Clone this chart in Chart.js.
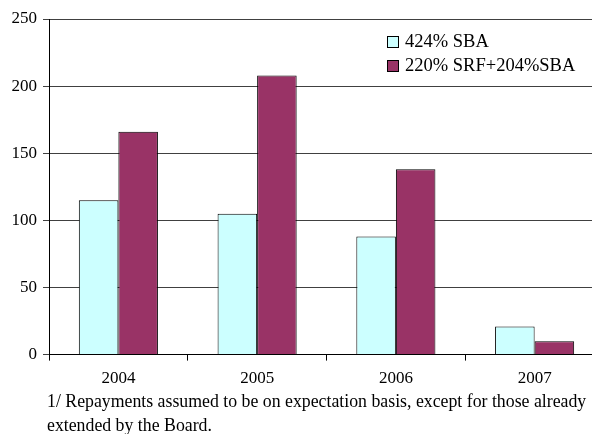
<!DOCTYPE html>
<html>
<head>
<meta charset="utf-8">
<script src="https://cdn.jsdelivr.net/npm/chart.js@4"></script>
<style>
  html, body { margin: 0; padding: 0; background: #fff; overflow: hidden; }
  #wrap { position: relative; width: 592px; height: 434px; overflow: hidden; }
  #box { position: absolute; left: 0; top: 0; width: 612px; height: 397px; }
  .legend { position: absolute; left: 387px; top: 30px; font: 18.5px "Liberation Serif", serif; color: #000; }
  .legend div { height: 24px; line-height: 22px; white-space: nowrap; }
  .legend span { display: inline-block; width: 10px; height: 10px; border: 1px solid #000; margin-right: 6px; vertical-align: -1px; }
  .note { position: absolute; left: 47px; top: 389px; font: 17.8px "Liberation Serif", serif; line-height: 24px; color: #000; white-space: nowrap; }
</style>
</head>
<body>
<div id="wrap">
  <div id="box"><canvas id="repay"></canvas></div>
  <div class="legend">
    <div><span style="background:#CCFFFF"></span>424% SBA</div>
    <div><span style="background:#993366"></span>220% SRF+204%SBA</div>
  </div>
  <div class="note">1/ Repayments assumed to be on expectation basis, except for those already<br>extended by the Board.</div>
</div>
<script>
const years = ['2004', '2005', '2006', '2007'];
const sba = [115, 105, 88, 21];
const srfSba = [166, 208, 138, 10];
const yTicks = [0, 50, 100, 150, 200, 250];

const serif = '"Liberation Serif", serif';

const data = {
    labels: years,
    datasets: [{
        label: '424% SBA',
        data: sba,
        backgroundColor: '#CCFFFF',
        borderColor: '#000',
        borderWidth: 1,
        borderSkipped: 'bottom'
    }, {
        label: '220% SRF+204%SBA',
        data: srfSba,
        backgroundColor: '#993366',
        borderColor: '#000',
        borderWidth: 1,
        borderSkipped: 'bottom'
    }]
};

const config = {
    type: 'bar',
    data: data,
    options: {
        responsive: true,
        maintainAspectRatio: false,
        animation: false,
        categoryPercentage: 0.57,
        barPercentage: 1,
        layout: { padding: { top: 19, right: 8, left: 0, bottom: 0 } },
        plugins: {
            legend: { display: false },
            tooltip: { enabled: false }
        },
        scales: {
            x: {
                grid: {
                    offset: true,
                    drawOnChartArea: false,
                    color: '#000',
                    tickLength: 6
                },
                border: { color: '#000', width: 1 },
                ticks: {
                    color: '#000',
                    font: { family: serif, size: 17 },
                    padding: 8
                }
            },
            y: {
                min: 0,
                max: 250,
                afterBuildTicks: function (axis) {
                    axis.ticks = yTicks.map(v => ({ value: v }));
                },
                afterFit: function (axis) {
                    axis.width = 49;
                },
                grid: {
                    color: '#404040',
                    tickLength: 6
                },
                border: { color: '#000', width: 1 },
                ticks: {
                    color: '#000',
                    font: { family: serif, size: 17 },
                    padding: 6
                }
            }
        }
    }
};

let repay = new Chart(document.getElementById('repay'), config);
</script>
</body>
</html>
